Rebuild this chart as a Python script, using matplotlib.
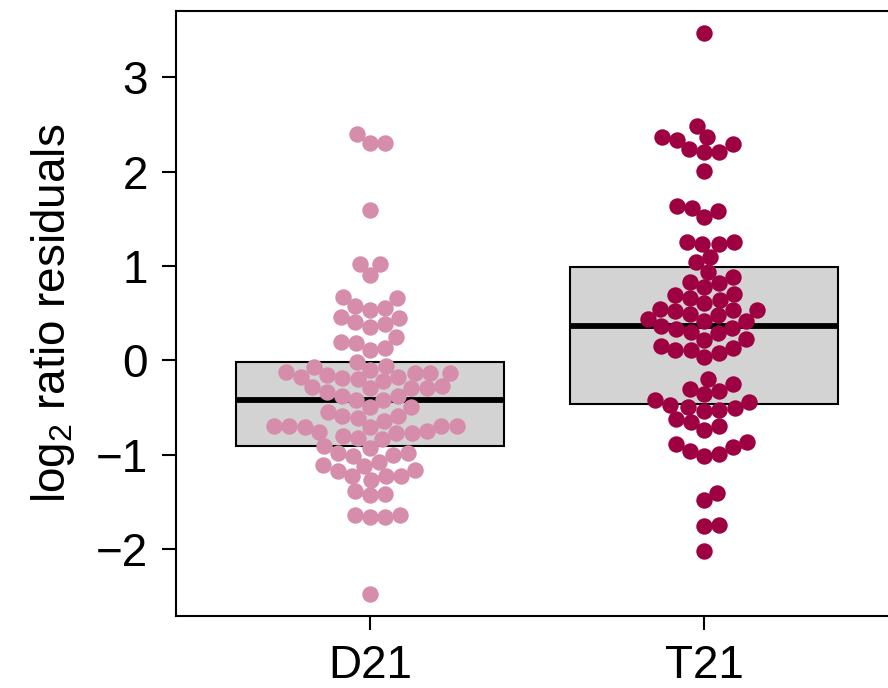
import numpy as np
import matplotlib
matplotlib.use("Agg")
import matplotlib.pyplot as plt

# log2 ratio residuals per group
groups = ["D21", "T21"]
d21 = [
    2.396, 2.301, 2.301, 1.589, 1.025, 1.025, 0.899, 0.655, 0.669, 0.574,
    0.529, 0.550, 0.462, 0.451, 0.409, 0.356, 0.381, 0.246, 0.197, 0.187,
    0.109, 0.134,
    -0.024, -0.060, -0.106, -0.077,
    -0.141, -0.141, -0.159, -0.201, -0.219, -0.193, -0.183, -0.130, -0.183, -0.141,
    -0.278, -0.299, -0.299, -0.299, -0.289,
    -0.377, -0.384, -0.423, -0.423, -0.341,
    -0.500, -0.494,
    -0.546, -0.595, -0.613, -0.641, -0.588,
    -0.701, -0.701, -0.711, -0.747, -0.800, -0.828, -0.757, -0.835, -0.775,
    -0.775, -0.711, -0.701, -0.701,
    -0.912, -0.983, -1.011, -0.933, -1.004, -0.983,
    -1.117, -1.170, -1.223, -1.110, -1.081, -1.265, -1.229, -1.223, -1.163,
    -1.382, -1.427, -1.416,
    -1.646, -1.646, -1.663, -1.663,
    -2.474,
]
t21 = [
    3.464,
    2.484, 2.336, 2.361, 2.361, 2.238, 2.202, 2.212, 2.294, 2.001,
    1.631, 1.614, 1.519, 1.578,
    1.251, 1.233, 1.233, 1.251,
    1.096, 1.039,
    0.933, 0.885, 0.828, 0.821, 0.775,
    0.705, 0.687, 0.663, 0.610, 0.637,
    0.539, 0.521, 0.486, 0.476, 0.529, 0.532, 0.441, 0.415,
    0.362, 0.335, 0.299, 0.285, 0.346, 0.415,
    0.215, 0.222, 0.151, 0.109, 0.106, 0.071, 0.124, 0.029,
    -0.201, -0.307, -0.254, -0.359, -0.331,
    -0.423, -0.476, -0.494, -0.536, -0.525, -0.511, -0.447,
    -0.624, -0.652, -0.737, -0.695,
    -0.888, -0.958, -1.011, -0.994, -0.916, -0.870,
    -1.406, -1.487,
    -1.762, -1.752,
    -2.022,
]
colors = ["#D58DAB", "#9E0142"]

plt.rcParams["font.family"] = ["Liberation Sans", "DejaVu Sans"]
plt.rcParams["mathtext.fontset"] = "custom"
plt.rcParams["mathtext.rm"] = "Liberation Sans"
plt.rcParams["mathtext.it"] = "Liberation Sans:italic"


def fivenum(v):
    # Tukey hinges, same as R's fivenum()
    x = np.sort(np.asarray(v, dtype=float))
    n = len(x)
    n4 = np.floor((n + 3) / 2) / 2
    d = np.array([1, n4, (n + 1) / 2, n + 1 - n4, n])
    return 0.5 * (x[np.floor(d).astype(int) - 1] + x[np.ceil(d).astype(int) - 1])


def swarm(ax, x0, values, spacing_px):
    # place points bottom-up, each as near the centre line as it can go
    pts = ax.transData.transform(np.column_stack([np.full(len(values), x0), values]))
    ys = pts[:, 1]
    xs = np.zeros(len(values))
    done = []
    for i in np.argsort(ys, kind="stable"):
        yi = ys[i]
        near = [j for j in done if abs(ys[j] - yi) < spacing_px]
        plus, minus = [], []
        for j in near:
            dx = np.sqrt(spacing_px ** 2 - (ys[j] - yi) ** 2)
            plus.append(xs[j] + dx)
            minus.append(xs[j] - dx)
        best = None
        for c in [0.0] + plus + minus:
            ok = all((xs[j] - c) ** 2 + (ys[j] - yi) ** 2 >= spacing_px ** 2 - 1e-6 for j in near)
            if ok and (best is None or abs(c) < abs(best)):
                best = c
        xs[i] = best
        done.append(i)
    px = pts[:, 0] + xs
    return ax.transData.inverted().transform(np.column_stack([px, ys]))[:, 0]


fig = plt.figure(figsize=(8.88, 6.88), dpi=100)
ax = fig.add_axes([176 / 888, 72 / 688, 722 / 888, 605 / 688])

all_vals = np.concatenate([d21, t21])
pad = 0.04 * (all_vals.max() - all_vals.min())
ax.set_xlim(0.42, 2.58)
ax.set_ylim(all_vals.min() - pad, all_vals.max() + pad)

for k, vals in enumerate([d21, t21]):
    x0 = k + 1
    lo, q1, med, q3, hi = fivenum(vals)
    ax.add_patch(plt.Rectangle((x0 - 0.4, q1), 0.8, q3 - q1, facecolor="#D3D3D3",
                               edgecolor="black", linewidth=1.5, zorder=1))
    ax.plot([x0 - 0.4, x0 + 0.4], [med, med], color="black", linewidth=4.2,
            solid_capstyle="butt", zorder=2)
    xs = swarm(ax, x0, vals, 15.3)
    ax.scatter(xs, vals, s=140, color=colors[k], linewidths=0, zorder=3)

ax.set_xticks([1, 2])
ax.set_xticklabels(groups)
ax.set_yticks([-2, -1, 0, 1, 2, 3])
ax.tick_params(labelsize=33, width=1.5, length=10, pad=10)
for sp in ax.spines.values():
    sp.set_linewidth(1.5)
ax.set_ylabel(r"log$_2$ ratio residuals", fontsize=33, labelpad=14)

fig.savefig("out.png", dpi=100)
